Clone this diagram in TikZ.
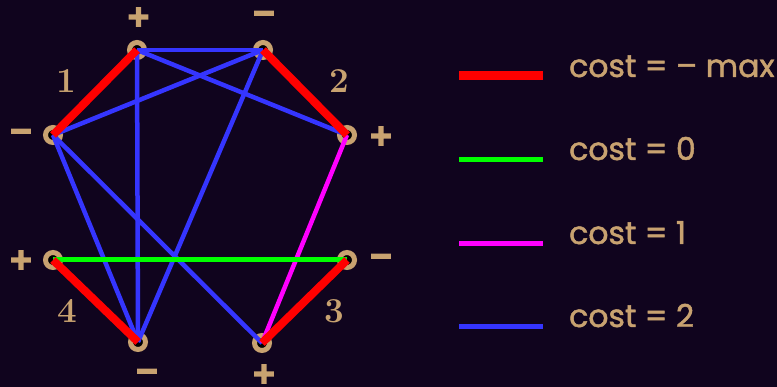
\documentclass[tikz,border=0pt]{standalone}
\usepackage{fontspec}
\newfontfamily\legendfont[FakeBold=1.5]{Poppins}
\newfontfamily\signfont[UprightFont={* Bold}, FakeBold=6]{DejaVu Sans}
\definecolor{bg}{HTML}{10041E}
\definecolor{tan}{HTML}{C8A270}
\definecolor{ebl}{HTML}{3535FF}
\definecolor{egr}{HTML}{00FF00}
\definecolor{emg}{HTML}{FF00FF}
\definecolor{erd}{HTML}{FF0000}
\begin{document}
\begin{tikzpicture}[x=1pt,y=-1pt,
  vtx/.style={circle, draw=tan, line width=5pt, fill=black, minimum size=15pt, inner sep=0pt},
  sign/.style={text=tan, font=\signfont\fontsize{29}{29}\selectfont, inner sep=0pt},
  num/.style={text=tan, font=\bfseries\fontsize{35}{35}\selectfont, inner sep=0pt},
  legtext/.style={text=tan, font=\legendfont\fontsize{31.5}{32}\selectfont, inner sep=0pt, anchor=base west},
  redge/.style={draw=erd, line width=8pt},
  bedge/.style={draw=ebl, line width=4.5pt},
  gedge/.style={draw=egr, line width=5pt},
  medge/.style={draw=emg, line width=4.5pt},
  redleg/.style={draw=erd, line width=9pt},
  othleg/.style={line width=5pt}
]
\fill[bg] (0,0) rectangle (777,387);
\useasboundingbox (0,0) rectangle (777,387);
% vertices
\node[vtx] (A) at (137,50) {};
\node[vtx] (B) at (263,50) {};
\node[vtx] (C) at (53,135) {};
\node[vtx] (D) at (347,135) {};
\node[vtx] (E) at (53,260) {};
\node[vtx] (F) at (347,260) {};
\node[vtx] (G) at (138,342) {};
\node[vtx] (H) at (262,343) {};
% edges
\draw[bedge] (A.center) -- (B.center);
\draw[bedge] (A.center) -- (D.center);
\draw[bedge] (A.center) -- (G.center);
\draw[bedge] (B.center) -- (C.center);
\draw[bedge] (B.center) -- (G.center);
\draw[bedge] (C.center) -- (G.center);
\draw[bedge] (C.center) -- (H.center);
\draw[medge] (D.center) -- (H.center);
\draw[gedge] (E.center) -- (F.center);
\draw[redge] (A.center) -- (C.center);
\draw[redge] (B.center) -- (D.center);
\draw[redge] (F.center) -- (H.center);
\draw[redge] (E.center) -- (G.center);
% signs
\node[sign] (sA) at (138.5,17) {+};
\node[sign] (sB) at (264,17) {−};
\node[sign] (sC) at (21,135) {−};
\node[sign] (sD) at (381,136) {+};
\node[sign] (sE) at (21,260) {+};
\node[sign] (sF) at (381,260) {−};
\node[sign] (sG) at (147,375) {−};
\node[sign] (sH) at (264,374) {+};
% numbers
\node[num] (n1) at (66,81) {1};
\node[num] (n2) at (339,81) {2};
\node[num] (n3) at (334,311) {3};
\node[num] (n4) at (67,311) {4};
% legend
\coordinate (l1a) at (459,76); \coordinate (l1b) at (543,76);
\coordinate (l2a) at (459,160); \coordinate (l2b) at (543,160);
\coordinate (l3a) at (459,244); \coordinate (l3b) at (543,244);
\coordinate (l4a) at (459,327); \coordinate (l4b) at (543,327);
\draw[redleg] (l1a) -- (l1b);
\draw[othleg, draw=egr] (l2a) -- (l2b);
\draw[othleg, draw=emg] (l3a) -- (l3b);
\draw[othleg, draw=ebl] (l4a) -- (l4b);
\node[legtext] (t1) at (569,77) {cost = – max};
\node[legtext] (t2) at (569,160) {cost = 0};
\node[legtext] (t3) at (569,244) {cost = 1};
\node[legtext] (t4) at (569,327) {cost = 2};
\end{tikzpicture}
\end{document}
